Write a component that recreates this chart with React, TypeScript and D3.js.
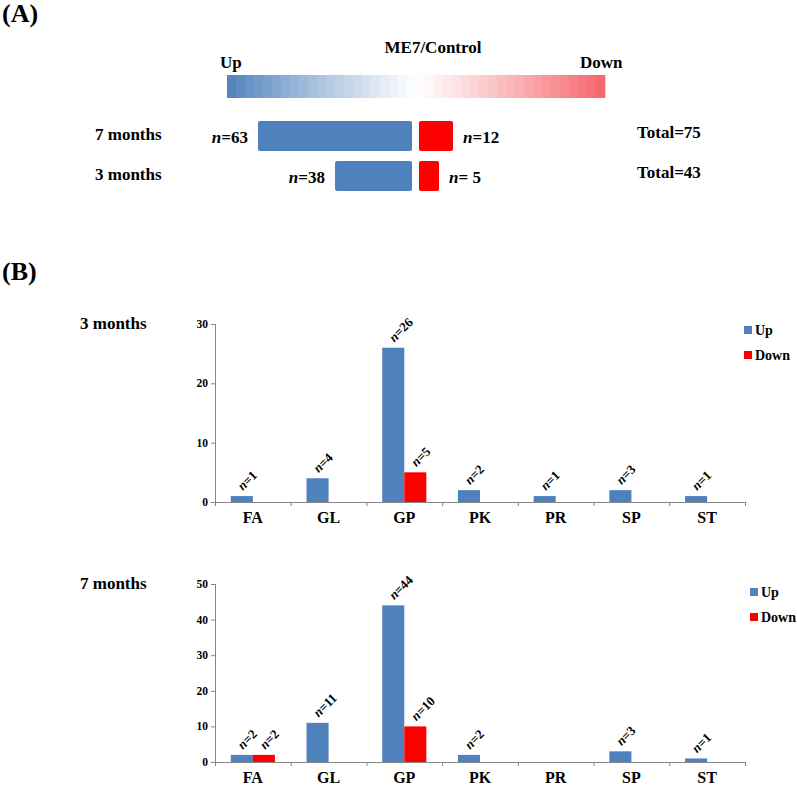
import React from 'react';
import * as d3 from 'd3';

// ---------- Data ----------
const categories = ['FA', 'GL', 'GP', 'PK', 'PR', 'SP', 'ST'];
const series = ['Up', 'Down'];

const up3 = [1, 4, 26, 2, 1, 2, 1];
const down3 = [0, 0, 5, 0, 0, 0, 0];
const upLabels3 = ['1', '4', '26', '2', '1', '3', '1'];
const downLabels3 = ['', '', '5', '', '', '', ''];
const yTicks3 = [0, 10, 20, 30];

const up7 = [2, 11, 44, 2, 0, 3, 1];
const down7 = [2, 0, 10, 0, 0, 0, 0];
const upLabels7 = ['2', '11', '44', '2', '', '3', '1'];
const downLabels7 = ['2', '', '10', '', '', '', ''];
const yTicks7 = [0, 10, 20, 30, 40, 50];

const summaryRows = ['7 months', '3 months'];
const summaryUp = [63, 38];
const summaryDown = [12, 5];
const summaryDownLabels = ['12', '\u00a05'];
const summaryTotal = [75, 43];

const gradientSteps = d3.range(42);

const BLUE = '#4F81BD';
const RED = '#FF0000';
const AXIS = '#868686';
const FONT = "'Liberation Serif', 'DejaVu Serif', serif";

type ChartProps = {
  title: string;
  titleY: number;
  up: number[];
  down: number[];
  upLabels: string[];
  downLabels: string[];
  ticks: number[];
  y0: number;
  yTop: number;
  legendY: number;
  legendX: number;
};

function NLabel({ x, y, text }: { x: number; y: number; text: string }) {
  return (
    <text
      transform={`translate(${x},${y}) rotate(-45)`}
      fontFamily={FONT}
      fontWeight="bold"
      fontSize={13}
      fill="#000"
    >
      <tspan fontStyle="italic">n</tspan>
      <tspan>={text}</tspan>
    </text>
  );
}

function BarChart(p: ChartProps) {
  const x0 = d3.scaleBand<string>().domain(categories).range([215, 745]);
  const x1 = d3
    .scaleBand<string>()
    .domain(series)
    .range([0, x0.bandwidth()])
    .paddingInner(0)
    .paddingOuter(0.716);
  const yMax = p.ticks[p.ticks.length - 1];
  const y = d3.scaleLinear().domain([0, yMax]).range([p.y0, p.yTop]);
  const bw = x1.bandwidth();
  const boundaries = categories.map((c) => x0(c) as number).concat([745]);

  return (
    <g>
      <text x={80} y={p.titleY} fontFamily={FONT} fontWeight="bold" fontSize={17}>
        {p.title}
      </text>
      {/* y axis */}
      <line x1={215.5} x2={215.5} y1={p.yTop} y2={p.y0 + 4} stroke={AXIS} />
      {p.ticks.map((t) => (
        <g key={t}>
          <line x1={211} x2={215.5} y1={y(t) + 0.5} y2={y(t) + 0.5} stroke={AXIS} />
          <text
            x={208}
            y={y(t) + 4}
            textAnchor="end"
            fontFamily={FONT}
            fontWeight="bold"
            fontSize={11.5}
          >
            {t}
          </text>
        </g>
      ))}
      {/* bars */}
      {categories.map((c, i) => {
        const bx = x0(c) as number;
        const ux = bx + (x1('Up') as number);
        const dx = bx + (x1('Down') as number);
        return (
          <g key={c}>
            {p.up[i] > 0 && (
              <rect x={ux} y={y(p.up[i])} width={bw} height={p.y0 - y(p.up[i])} fill={BLUE} />
            )}
            {p.down[i] > 0 && (
              <rect x={dx} y={y(p.down[i])} width={bw} height={p.y0 - y(p.down[i])} fill={RED} />
            )}
          </g>
        );
      })}
      {/* x axis */}
      <line x1={215} x2={745.5} y1={p.y0 + 0.5} y2={p.y0 + 0.5} stroke={AXIS} />
      {boundaries.map((b, i) => (
        <line key={i} x1={b + 0.5} x2={b + 0.5} y1={p.y0} y2={p.y0 + 4} stroke={AXIS} />
      ))}
      {categories.map((c) => (
        <text
          key={c}
          x={(x0(c) as number) + x0.bandwidth() / 2}
          y={p.y0 + 21}
          textAnchor="middle"
          fontFamily={FONT}
          fontWeight="bold"
          fontSize={16}
        >
          {c}
        </text>
      ))}
      {/* labels */}
      {categories.map((c, i) => {
        const bx = x0(c) as number;
        const ux = bx + (x1('Up') as number) + bw / 2;
        const dx = bx + (x1('Down') as number) + bw / 2;
        return (
          <g key={c + 'l'}>
            {p.upLabels[i] && <NLabel x={ux + 1} y={y(p.up[i]) - 5} text={p.upLabels[i]} />}
            {p.downLabels[i] && <NLabel x={dx + 1} y={y(p.down[i]) - 5} text={p.downLabels[i]} />}
          </g>
        );
      })}
      {/* legend */}
      {series.map((s, i) => (
        <g key={s}>
          <rect
            x={p.legendX}
            y={p.legendY + i * 25 - 4}
            width={8}
            height={8}
            fill={s === 'Up' ? BLUE : RED}
          />
          <text
            x={p.legendX + 11}
            y={p.legendY + i * 25 + 5}
            fontFamily={FONT}
            fontWeight="bold"
            fontSize={14}
          >
            {s}
          </text>
        </g>
      ))}
    </g>
  );
}

function PanelA() {
  const gx = d3.scaleLinear().domain([0, gradientSteps.length]).range([227, 605]);
  const leftCol = d3.interpolateRgb('#4F81BD', '#FFFFFF');
  const rightCol = d3.interpolateRgb('#FFFFFF', '#F4646B');
  const n = gradientSteps.length;
  const colorOf = (i: number) => {
    const t = (i + 0.5) / n;
    return t < 0.5 ? leftCol(Math.pow(t / 0.5, 0.9)) : rightCol(Math.pow((t - 0.5) / 0.5, 1.1));
  };
  const rowY = d3.scaleBand<string>().domain(summaryRows).range([116, 196]).paddingInner(0.25).paddingOuter(0.125);
  const upW = d3.scaleLinear().domain([13, 63]).range([0, 154]);
  const downW = d3.scaleLinear().domain([-5, 12]).range([0, 34]);
  const center = 412;

  return (
    <g>
      <text x={2} y={22} fontFamily={FONT} fontWeight="bold" fontSize={26}>
        (A)
      </text>
      <text x={433} y={53} textAnchor="middle" fontFamily={FONT} fontWeight="bold" fontSize={17}>
        ME7/Control
      </text>
      <text x={220} y={68} fontFamily={FONT} fontWeight="bold" fontSize={17}>
        Up
      </text>
      <text x={580} y={68} fontFamily={FONT} fontWeight="bold" fontSize={17}>
        Down
      </text>
      {gradientSteps.map((i) => (
        <rect key={i} x={gx(i)} y={75} width={gx(i + 1) - gx(i) + 0.3} height={23} fill={colorOf(i)} />
      ))}
      {summaryRows.map((r, i) => {
        const yy = rowY(r) as number;
        const h = rowY.bandwidth();
        const wu = upW(summaryUp[i]);
        const wd = downW(summaryDown[i]);
        const cy = yy + h / 2;
        return (
          <g key={r}>
            <text x={95} y={cy + 4} fontFamily={FONT} fontWeight="bold" fontSize={17}>
              {r}
            </text>
            <rect x={center - wu} y={yy} width={wu} height={h} rx={2} fill={BLUE} />
            <rect x={center + 7} y={yy} width={wd} height={h} rx={2} fill={RED} />
            <text
              x={center - wu - 10}
              y={cy + 7}
              textAnchor="end"
              fontFamily={FONT}
              fontWeight="bold"
              fontSize={17}
            >
              <tspan fontStyle="italic">n</tspan>={summaryUp[i]}
            </text>
            <text x={center + 7 + wd + 10} y={cy + 7} fontFamily={FONT} fontWeight="bold" fontSize={17}>
              <tspan fontStyle="italic">n</tspan>={summaryDownLabels[i]}
            </text>
            <text x={637} y={cy + 2} fontFamily={FONT} fontWeight="bold" fontSize={17}>
              Total={summaryTotal[i]}
            </text>
          </g>
        );
      })}
    </g>
  );
}

export default function App() {
  return (
    <svg
      width={797}
      height={786}
      style={{ position: 'absolute', left: 0, top: 0, background: '#fff' }}
    >
      <rect width={797} height={786} fill="#fff" />
      <PanelA />
      <text x={2} y={280} fontFamily={FONT} fontWeight="bold" fontSize={26}>
        (B)
      </text>
      <BarChart
        title="3 months"
        titleY={329}
        up={up3}
        down={down3}
        upLabels={upLabels3}
        downLabels={downLabels3}
        ticks={yTicks3}
        y0={502}
        yTop={324}
        legendX={744}
        legendY={330}
      />
      <BarChart
        title="7 months"
        titleY={589}
        up={up7}
        down={down7}
        upLabels={upLabels7}
        downLabels={downLabels7}
        ticks={yTicks7}
        y0={762}
        yTop={584}
        legendX={750}
        legendY={592}
      />
    </svg>
  );
}
